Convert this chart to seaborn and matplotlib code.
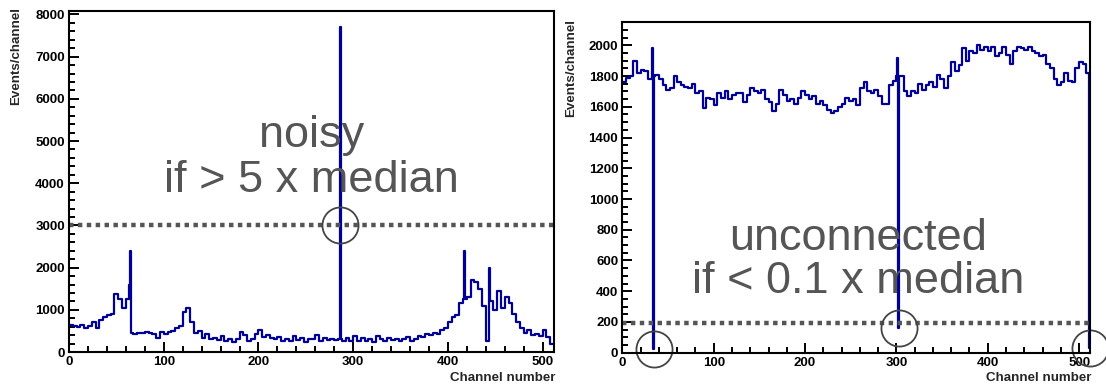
import matplotlib

matplotlib.use("Agg")
import matplotlib.pyplot as plt
import numpy as np
import seaborn as sns

# ---------------------------------------------------------------- data
# counts per 4-channel block (channels 4i .. 4i+3)
noisy_counts = [
    650, 620, 600, 640, 560, 620, 700, 580, 760, 820, 870, 900, 1380, 1250, 1050, 1250,
    450, 430, 460, 440, 470, 450, 430, 330, 470, 420, 480, 500, 560, 620, 950, 1050,
    720, 450, 500, 330, 420, 300, 340, 280, 380, 260, 300, 240, 300, 480, 400, 270,
    300, 430, 520, 350, 400, 330, 300, 350, 260, 300, 250, 370, 280, 330, 240, 320,
    300, 400, 270, 330, 280, 310, 290, 300, 260, 330, 270, 380, 260, 330, 270, 320,
    230, 370, 300, 260, 340, 280, 320, 250, 300, 350, 270, 310, 380, 360, 420, 400,
    460, 430, 520, 560, 700, 820, 880, 1150, 1250, 1300, 1700, 1650, 1500, 1100, 250, 1200,
    1000, 1450, 1050, 1300, 1150, 900, 700, 580, 450, 520, 400, 430, 380, 520, 350, 180,
]
# single channels standing out from their block
noisy_spike_ch = [63, 64, 286, 417, 443]
noisy_spike_val = [1600, 2400, 7700, 2400, 2000]
noisy_threshold = 3000

dead_counts = [
    1760, 1790, 1800, 1900, 1820, 1840, 1830, 1780, 1800, 1810, 1780, 1740, 1710, 1720, 1800, 1760,
    1740, 1730, 1720, 1750, 1690, 1700, 1590, 1660, 1650, 1610, 1690, 1660, 1700, 1650, 1680, 1690,
    1690, 1630, 1680, 1720, 1700, 1690, 1710, 1650, 1630, 1570, 1620, 1710, 1680, 1640, 1650, 1620,
    1660, 1700, 1680, 1650, 1670, 1620, 1640, 1610, 1580, 1560, 1570, 1600, 1620, 1660, 1640, 1650,
    1610, 1720, 1760, 1700, 1690, 1710, 1670, 1620, 1620, 1740, 1770, 1800, 1800, 1700, 1670, 1700,
    1690, 1750, 1710, 1740, 1760, 1730, 1810, 1780, 1720, 1800, 1890, 1830, 1870, 1980, 1900, 1960,
    1950, 2000, 1970, 1990, 1960, 1990, 1930, 1950, 1990, 1940, 1880, 1960, 1990, 1980, 1970, 1990,
    1960, 1950, 1930, 1940, 1880, 1850, 1780, 1740, 1760, 1820, 1770, 1760, 1850, 1890, 1880, 1820,
]
dead_spike_ch = [33, 34, 301, 302, 511]
dead_spike_val = [1980, 25, 1920, 160, 30]
dead_channels = [34, 302, 511]
dead_threshold = 190

N_CHANNELS = 512
BLOCK = 4

LINE_COLOR = "#000099"
GRAY = "#555555"
BIG = 32.5


def channel_bins(block_counts, spike_ch, spike_val):
    """Bin edges and counts: 4-channel blocks, split where single channels stand out."""
    spike_ch = np.asarray(spike_ch)
    edges = np.union1d(np.arange(0, N_CHANNELS + 1, BLOCK),
                       np.concatenate([spike_ch, spike_ch + 1]))
    lefts = edges[:-1]
    vals = np.asarray(block_counts, dtype=float)[lefts // BLOCK]
    for ch, v in zip(spike_ch, spike_val):
        vals[lefts == ch] = v
    centers = (edges[:-1] + edges[1:]) / 2
    return edges.tolist(), centers, vals


def style_axis(ax, ymax, ymajor, yminor):
    ax.set_xlim(0, N_CHANNELS)
    ax.set_ylim(0, ymax)
    ax.set_xticks(np.arange(0, 501, 100))
    ax.set_xticks(np.arange(0, N_CHANNELS + 1, 20), minor=True)
    ax.set_yticks(np.arange(0, ymax, ymajor))
    ax.set_yticks(np.arange(0, ymax, yminor), minor=True)
    ax.tick_params(which="both", direction="in", bottom=True, left=True, top=False,
                   right=False, labelsize=9.5, colors="black", width=1.4)
    ax.tick_params(which="major", length=7.5, pad=3)
    ax.tick_params(which="minor", length=4)
    for lab in ax.get_xticklabels() + ax.get_yticklabels():
        lab.set_fontweight("bold")
    for sp in ax.spines.values():
        sp.set_visible(True)
        sp.set_color("black")
        sp.set_linewidth(1.5)
    ax.set_xlabel("")
    ax.set_ylabel("")
    ax.grid(False)


sns.set_theme(style="white")
plt.rcParams["font.family"] = ["Liberation Sans", "DejaVu Sans"]

fig = plt.figure(figsize=(11.06, 3.85), dpi=100)
ax_l = fig.add_axes([0.0624, 0.0857, 0.4385, 0.886])
ax_r = fig.add_axes([0.5627, 0.0839, 0.4229, 0.859])

# ---------------------------------------------------------------- left: noisy
edges, centers, vals = channel_bins(noisy_counts, noisy_spike_ch, noisy_spike_val)
sns.histplot(x=centers, weights=vals, bins=edges, element="step", fill=False,
             color=LINE_COLOR, linewidth=1.6, ax=ax_l)
style_axis(ax_l, 8085, 1000, 200)
ax_l.axhline(noisy_threshold, color=GRAY, linewidth=3.2, linestyle=(0, (1.0, 1.0)))
ax_l.plot([noisy_spike_ch[2] + 0.5], [noisy_threshold], marker="o", markersize=26,
          markerfacecolor="none", markeredgecolor="#444444", markeredgewidth=1.3,
          clip_on=False)
ax_l.text(0.5, 0.60, "noisy", transform=ax_l.transAxes, ha="center", va="baseline",
          fontsize=BIG, color=GRAY)
ax_l.text(0.5, 0.469, "if > 5 x median", transform=ax_l.transAxes, ha="center",
          va="baseline", fontsize=BIG, color=GRAY)

# ---------------------------------------------------------------- right: unconnected
edges, centers, vals = channel_bins(dead_counts, dead_spike_ch, dead_spike_val)
sns.histplot(x=centers, weights=vals, bins=edges, element="step", fill=False,
             color=LINE_COLOR, linewidth=1.6, ax=ax_r)
style_axis(ax_r, 2152, 200, 50)
ax_r.axhline(dead_threshold, color=GRAY, linewidth=3.2, linestyle=(0, (1.0, 1.0)))
dead_vals = [dead_spike_val[dead_spike_ch.index(c)] for c in dead_channels]
ax_r.plot(np.array(dead_channels) + 0.5, dead_vals, linestyle="none", marker="o",
          markersize=26, markerfacecolor="none", markeredgecolor="#444444",
          markeredgewidth=1.3, clip_on=False)
ax_r.text(0.504, 0.31, "unconnected", transform=ax_r.transAxes, ha="center",
          va="baseline", fontsize=BIG, color=GRAY)
ax_r.text(0.504, 0.18, "if < 0.1 x median", transform=ax_r.transAxes, ha="center",
          va="baseline", fontsize=BIG, color=GRAY)

# ROOT-style axis titles: y at top-left, x at bottom-right
title_kw = dict(fontsize=9.6, fontweight="bold")
fig.text(16 / 1106, 1 - 7 / 385, "Events/channel", rotation=90, ha="center", va="top",
         **title_kw)
fig.text(571 / 1106, 1 - 19 / 385, "Events/channel", rotation=90, ha="center", va="top",
         **title_kw)
fig.text(556 / 1106, 1 - 378 / 385, "Channel number", ha="right", va="center", **title_kw)
fig.text(1091 / 1106, 1 - 378 / 385, "Channel number", ha="right", va="center", **title_kw)

fig.savefig("out.png", dpi=100)
plt.close(fig)
